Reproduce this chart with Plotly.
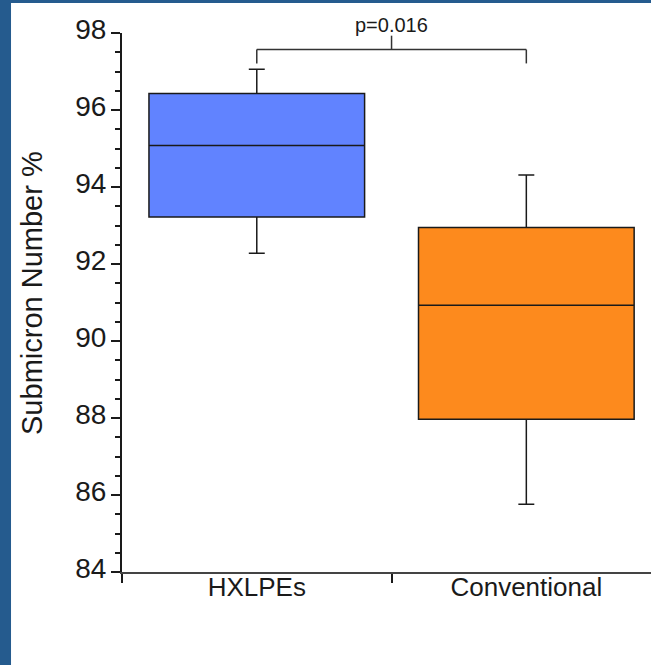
import plotly.graph_objects as go

# Box statistics for each group (Submicron Number %)
groups = ["HXLPEs", "Conventional"]
lower_whisker = [92.28, 85.76]
q1_vals = [93.22, 87.97]
medians = [95.08, 90.93]
q3_vals = [96.43, 92.95]
upper_whisker = [97.06, 94.31]
fill_colors = ["#6183FF", "#FD8A1D"]

y_ticks = [84, 86, 88, 90, 92, 94, 96, 98]
p_label = "p=0.016"
bracket_y = 97.57
bracket_leg = 97.21
bracket_top = 97.93

FONT = "Liberation Sans, Arial, sans-serif"
INK = "#1a1a1a"

fig = go.Figure()
for i, g in enumerate(groups):
    fig.add_trace(go.Box(
        x=[g],
        q1=[q1_vals[i]], median=[medians[i]], q3=[q3_vals[i]],
        lowerfence=[lower_whisker[i]], upperfence=[upper_whisker[i]],
        fillcolor=fill_colors[i],
        line=dict(color=INK, width=1.5),
        width=0.8,
        whiskerwidth=0.074,
        boxpoints=False,
        showlegend=False,
    ))

# significance bracket between the two groups
bracket = dict(type="line", xref="x", yref="y", line=dict(color="#333333", width=1.5))
fig.add_shape(**bracket, x0=0, x1=1, y0=bracket_y, y1=bracket_y)
fig.add_shape(**bracket, x0=0, x1=0, y0=bracket_leg, y1=bracket_y)
fig.add_shape(**bracket, x0=1, x1=1, y0=bracket_leg, y1=bracket_y)
fig.add_shape(**bracket, x0=0.5, x1=0.5, y0=bracket_y, y1=bracket_top)

fig.add_annotation(
    x=0.5, xref="x", y=98.0, yref="y", yanchor="bottom", yshift=-5,
    text=p_label, showarrow=False,
    font=dict(family=FONT, size=20, color=INK),
)

# y-axis title
fig.add_annotation(
    x=-0.1692, xref="paper", y=0.5186, yref="paper",
    text="Submicron Number %", textangle=-90, showarrow=False,
    xanchor="center", yanchor="middle",
    font=dict(family=FONT, size=29, color=INK),
)

# frame strips along the left and top edges
frame_color = "#255B8E"
fig.add_shape(type="rect", xref="paper", yref="paper",
              x0=-0.2307, x1=-0.2098, y0=-0.2, y1=1.07,
              fillcolor=frame_color, line=dict(width=0))
fig.add_shape(type="rect", xref="paper", yref="paper",
              x0=-0.25, x1=1.05, y0=1.0557, y1=1.07,
              fillcolor=frame_color, line=dict(width=0))

fig.update_layout(
    width=651, height=665,
    margin=dict(l=122, r=0, t=33, b=93),
    paper_bgcolor="white", plot_bgcolor="white",
    font=dict(family=FONT, color=INK),
    boxmode="overlay",
)

fig.update_xaxes(
    type="category",
    categoryorder="array", categoryarray=groups,
    range=[-0.5, 1.4625],
    showline=True, linecolor="#444444", linewidth=2,
    ticks="outside", tickson="boundaries", ticklen=9, tickwidth=1.5, tickcolor=INK,
    tickfont=dict(family=FONT, size=26, color=INK),
    ticklabelstandoff=-9,
    showgrid=False, zeroline=False,
)

fig.update_yaxes(
    range=[84, 98],
    tickvals=y_ticks, ticktext=[str(v) for v in y_ticks],
    showline=True, linecolor=INK, linewidth=2,
    ticks="outside", ticklen=9, tickwidth=1.5, tickcolor=INK,
    minor=dict(dtick=0.5, ticks="outside", ticklen=5, tickwidth=1.5, tickcolor=INK, showgrid=False),
    tickfont=dict(family=FONT, size=28, color=INK),
    ticklabelstandoff=-1, ticklabelshift=-4,
    showgrid=False, zeroline=False,
)

fig.write_html("out.html")
